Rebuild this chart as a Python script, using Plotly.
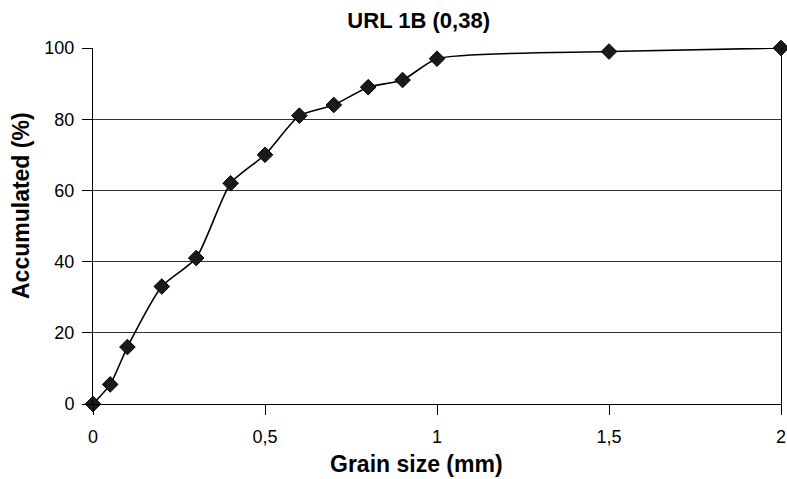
import plotly.graph_objects as go

grain_size = [0, 0.05, 0.1, 0.2, 0.3, 0.4, 0.5, 0.6, 0.7, 0.8, 0.9, 1.0, 1.5, 2.0]
accumulated = [0, 5.5, 16, 33, 41, 62, 70, 81, 84, 89, 91, 97, 99, 100]
x_ticks = [0, 0.5, 1, 1.5, 2]
y_ticks = [0, 20, 40, 60, 80, 100]

fig = go.Figure()
fig.add_trace(go.Scatter(
    x=grain_size, y=accumulated, mode="lines+markers",
    line=dict(color="black", width=1.6, shape="spline", smoothing=0.6),
    marker=dict(symbol="diamond", size=12, color="#1a1a1a", line=dict(color="black", width=1)),
    cliponaxis=False, showlegend=False,
))

fnt = "Liberation Sans, Arial, sans-serif"
fig.update_layout(
    width=787, height=479,
    paper_bgcolor="white", plot_bgcolor="white",
    margin=dict(l=93, r=6, t=48, b=75),
    separators=",.",
    font=dict(family=fnt, size=18, color="black"),
    title=dict(text="<b>URL 1B (0,38)</b>", x=0.532, xanchor="center",
               yref="container", y=1 - 20 / 479, yanchor="middle", automargin=False,
               font=dict(family=fnt, size=22, color="black")),
    xaxis=dict(range=[0, 2], tickvals=x_ticks, showgrid=False, zeroline=False,
               showline=True, linecolor="black", linewidth=1,
               ticks="outside", ticklen=10, tickcolor="black", ticklabelstandoff=6,
               automargin=False),
    yaxis=dict(range=[0, 100], tickvals=y_ticks, showgrid=True, gridcolor="#333333", gridwidth=1,
               zeroline=False, showline=True, linecolor="black", linewidth=1, mirror=True,
               ticks="outside", ticklen=10, tickcolor="black", ticklabelstandoff=4,
               automargin=False),
    annotations=[
        dict(text="<b>Grain size (mm)</b>", xref="paper", yref="paper",
             x=(416 - 93) / 688, y=(404 - 464) / 356, xanchor="center", yanchor="middle",
             showarrow=False, font=dict(family=fnt, size=23, color="black")),
        dict(text="<b>Accumulated (%)</b>", xref="paper", yref="paper", textangle=-90,
             x=(21 - 93) / 688, y=(404 - 206) / 356, xanchor="center", yanchor="middle",
             showarrow=False, font=dict(family=fnt, size=23, color="black")),
    ],
)

fig.write_html("out.html", config={"displayModeBar": False},
               post_script="document.body.style.margin='0';document.body.style.overflow='hidden';")
